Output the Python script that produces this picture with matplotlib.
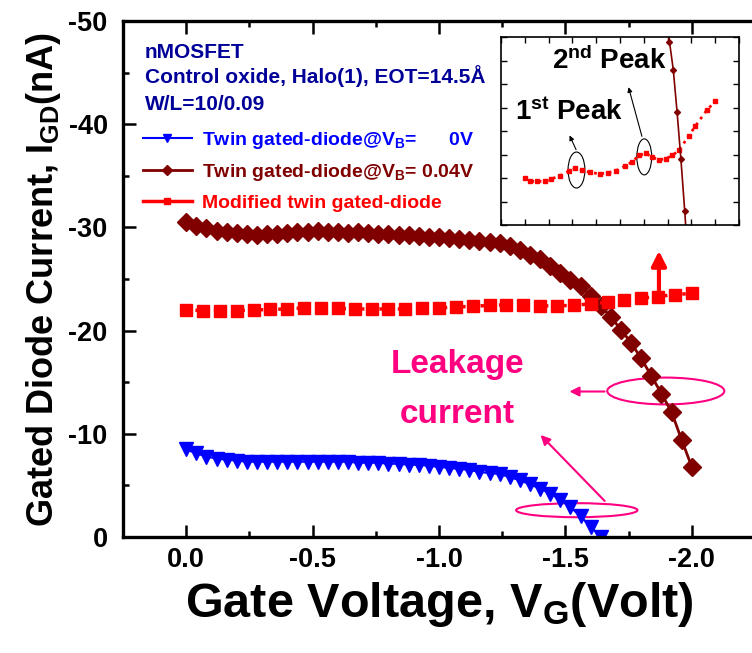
import numpy as np
import matplotlib
matplotlib.use('Agg')
import matplotlib.pyplot as plt
from matplotlib.patches import Ellipse
from matplotlib.ticker import MultipleLocator, FuncFormatter

plt.rcParams['font.family'] = 'Liberation Sans'
plt.rcParams['font.weight'] = 'bold'
plt.rcParams['axes.labelweight'] = 'bold'
plt.rcParams['axes.unicode_minus'] = False
plt.rcParams['mathtext.fontset'] = 'custom'
plt.rcParams['mathtext.rm'] = 'Liberation Sans:bold'
plt.rcParams['mathtext.it'] = 'Liberation Sans:bold'
plt.rcParams['mathtext.bf'] = 'Liberation Sans:bold'

# --- measured data ---
# twin gated-diode, VB = 0 V (0.04 V sweep step)
vg_b0 = np.linspace(0, -1.64, 42)
i_b0 = [-8.5, -8.1, -7.8, -7.6, -7.5, -7.4, -7.3, -7.3, -7.3, -7.3,
        -7.3, -7.3, -7.3, -7.3, -7.3, -7.3, -7.3, -7.2, -7.2, -7.2,
        -7.1, -7.1, -7.0, -7.0, -6.9, -6.8, -6.7, -6.6, -6.5, -6.3,
        -6.2, -6.1, -5.8, -5.5, -5.1, -4.7, -4.2, -3.6, -2.9, -2.0,
        -1.0, 0.0]

# twin gated-diode, VB = 0.04 V
vg_b004 = np.linspace(0, -2.0, 51)
i_b004 = [-30.5, -30.1, -29.9, -29.7, -29.6, -29.5, -29.4, -29.3, -29.4, -29.4,
          -29.5, -29.6, -29.6, -29.7, -29.6, -29.6, -29.5, -29.6, -29.5, -29.4,
          -29.4, -29.3, -29.3, -29.2, -29.1, -29.1, -29.0, -28.9, -28.8, -28.7,
          -28.6, -28.5, -28.2, -27.8, -27.3, -26.9, -26.3, -25.6, -24.9, -24.3,
          -23.4, -22.4, -21.3, -20.1, -18.8, -17.3, -15.6, -13.9, -12.1, -9.4,
          -6.8]

# modified twin gated-diode
vg_mod = np.linspace(0, -2.0, 31)
i_mod = [-22.0, -21.95, -21.95, -21.95, -22.0, -22.05, -22.1, -22.2, -22.2, -22.15,
         -22.1, -22.1, -22.1, -22.1, -22.15, -22.2, -22.3, -22.35, -22.45, -22.5,
         -22.45, -22.4, -22.4, -22.45, -22.6, -22.75, -22.95, -23.15, -23.3, -23.5,
         -23.6]

# close-up of the modified curve (inset)
vg_peak = [0.0, -0.06, -0.13, -0.21, -0.28, -0.37, -0.46, -0.53, -0.60, -0.68,
           -0.79, -0.87, -0.96, -1.05, -1.13, -1.20, -1.27, -1.34, -1.41, -1.48,
           -1.55, -1.62, -1.72, -1.79, -1.91, -2.0]
i_peak = [-22.00, -21.93, -21.93, -21.93, -21.98, -22.05, -22.14, -22.21, -22.18, -22.12,
          -22.09, -22.11, -22.16, -22.25, -22.35, -22.48, -22.53, -22.44, -22.39, -22.41,
          -22.48, -22.59, -22.89, -23.10, -23.44, -23.63]

c_b0 = '#0000FF'
c_b004 = '#800000'
c_mod = '#FF0000'
c_pink = '#FF0080'
c_note = '#000099'

fig = plt.figure(figsize=(7.52, 6.53), dpi=100)
ax = fig.add_axes([0.1636, 0.1776, 0.8404, 0.7902])

l1, = ax.plot(vg_b0, i_b0, color=c_b0, marker='v', ms=10.5, lw=1.5,
              label='Twin gated-diode@V$_B$=      0V')
l2, = ax.plot(vg_b004, i_b004, color=c_b004, marker='D', ms=9, lw=2,
              label='Twin gated-diode@V$_B$= 0.04V')
l3, = ax.plot(vg_mod, i_mod, color=c_mod, marker='s', ms=8, ls=':', lw=2.5,
              label='Modified twin gated-diode')

ax.set_xlim(0.25, -2.25)
ax.set_ylim(0, -50)
ax.xaxis.set_major_locator(MultipleLocator(0.5))
ax.xaxis.set_minor_locator(MultipleLocator(0.25))
ax.yaxis.set_major_locator(MultipleLocator(10))
ax.yaxis.set_minor_locator(MultipleLocator(5))
ax.xaxis.set_major_formatter(FuncFormatter(lambda v, p: '0.0' if abs(v) < 1e-9 else '%.1f' % v))
ax.yaxis.set_major_formatter(FuncFormatter(lambda v, p: '0' if abs(v) < 1e-9 else '%d' % v))
ax.tick_params(which='both', direction='in', top=True, right=False, width=1.8)
ax.tick_params(which='major', length=9, labelsize=19.5)
ax.tick_params(axis='x', which='major', pad=7)
ax.tick_params(axis='y', which='major', pad=11)
ax.tick_params(which='minor', length=4.5)
for s in ax.spines.values():
    s.set_linewidth(2.4)

ax.set_xlabel('Gate Voltage, V$_G$(Volt)', fontsize=35, labelpad=5)
ax.set_ylabel('Gated Diode Current, I$_{GD}$(nA)', fontsize=26, labelpad=4)

# sample description
ax.text(0.0348, 0.928, 'nMOSFET', transform=ax.transAxes, color=c_note, fontsize=15)
ax.text(0.0348, 0.880, 'Control oxide, Halo(1), EOT=14.5Å', transform=ax.transAxes,
        color=c_note, fontsize=15)
ax.text(0.0348, 0.8275, 'W/L=10/0.09', transform=ax.transAxes, color=c_note, fontsize=15)

leg = ax.legend(handles=[l1, l2, l3], loc='upper left', bbox_to_anchor=(0.0316, 0.789),
                frameon=False, fontsize=14, handlelength=2.5, handletextpad=0.55,
                labelspacing=0.58, borderpad=0, borderaxespad=0, markerscale=0.55)
for txt, c in zip(leg.get_texts(), [c_b0, c_b004, c_mod]):
    txt.set_color(c)
leg.legend_handles[2].set_linestyle('-')

# red arrow pointing to the inset
ax.annotate('', xy=(-1.87, -28.0), xytext=(-1.87, -23.3),
            arrowprops=dict(arrowstyle='-|>', color=c_mod, lw=3, mutation_scale=22))

# leakage current markers
ax.text(-1.073, -15.9, 'Leakage', ha='center', va='baseline', fontsize=24, color=c_pink)
ax.text(-1.073, -11.05, 'current', ha='center', va='baseline', fontsize=24, color=c_pink)
ax.add_patch(Ellipse((-1.897, -14.15), 0.463, 2.6, fill=False, ec=c_pink, lw=1.5))
ax.annotate('', xy=(-1.505, -14.1), xytext=(-1.666, -14.1),
            arrowprops=dict(arrowstyle='-|>', color=c_pink, lw=1.5, mutation_scale=14))
ax.add_patch(Ellipse((-1.545, -2.6), 0.48, 1.36, fill=False, ec=c_pink, lw=1.5))
ax.annotate('', xy=(-1.394, -10.08), xytext=(-1.663, -3.3),
            arrowprops=dict(arrowstyle='-|>', color=c_pink, lw=1.5, mutation_scale=14))

# inset: close-up of the two peaks
axins = fig.add_axes([0.6662, 0.6554, 0.3165, 0.2879])
axins.plot(vg_peak, i_peak, color=c_mod, marker='s', ms=3.5, ls=':', lw=2)
axins.plot(vg_b004, i_b004, color=c_b004, marker='D', ms=3, lw=1.2)
axins.set_xlim(0.25, -2.25)
axins.set_ylim(-21.0, -25.0)
axins.xaxis.set_major_locator(MultipleLocator(0.25))
axins.yaxis.set_major_locator(MultipleLocator(0.5))
axins.tick_params(which='both', direction='in', top=True, right=True, length=4, width=1,
                  labelbottom=False, labelleft=False)
for s in axins.spines.values():
    s.set_linewidth(1.2)

axins.add_patch(Ellipse((-0.543, -22.17), 0.177, 0.766, fill=False, ec='black', lw=0.8))
axins.add_patch(Ellipse((-1.255, -22.45), 0.156, 0.766, fill=False, ec='black', lw=0.8))
axins.annotate('', xy=(-0.458, -22.96), xytext=(-0.551, -22.55),
               arrowprops=dict(arrowstyle='-|>', color='black', lw=0.8, mutation_scale=7))
axins.annotate('', xy=(-1.082, -23.99), xytext=(-1.238, -22.83),
               arrowprops=dict(arrowstyle='-|>', color='black', lw=0.8, mutation_scale=7))
axins.text(0.214, 0.832, '2$^{nd}$ Peak', transform=axins.transAxes, fontsize=20,
           va='baseline')
axins.text(0.06, 0.558, '1$^{st}$ Peak', transform=axins.transAxes, fontsize=20,
           va='baseline')

fig.savefig('out.png', dpi=100)
